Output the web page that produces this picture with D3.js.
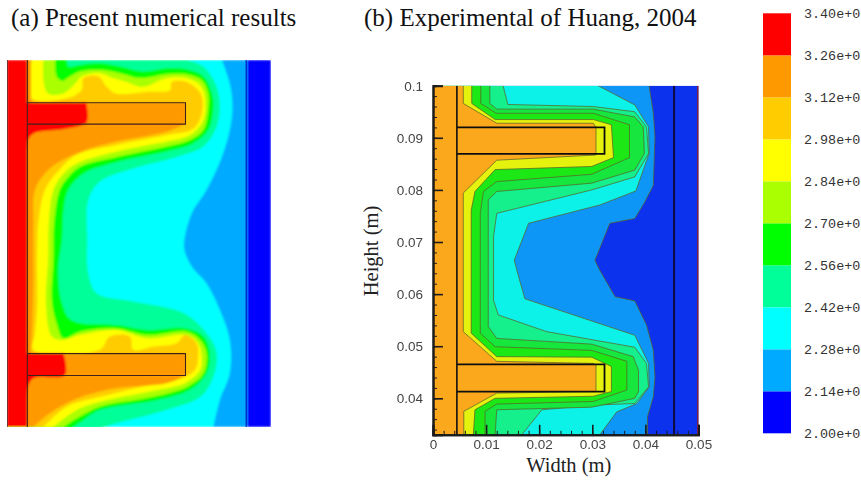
<!DOCTYPE html>
<html>
<head>
<meta charset="utf-8">
<style>
html, body { margin: 0; padding: 0; background: #fff; overflow: hidden; }
svg { display: block; }
.title, .axis-title { font-family: "Liberation Serif", serif; fill: #111; }
.title { font-size: 25px; }
.axis-title { font-size: 20.5px; fill: #222; }
.tick-label { font-family: "Liberation Sans", sans-serif; font-size: 13.5px; fill: #444; }
.legend-label { font-family: "Liberation Mono", monospace; font-size: 13.4px; fill: #333; }
</style>
</head>
<body>
<div id="vizHolder"></div>
<script src="https://cdn.jsdelivr.net/npm/d3@7"></script>
<script>
// colour bar
var levels = [2.00, 2.14, 2.28, 2.42, 2.56, 2.70, 2.84, 2.98, 3.12, 3.26, 3.40];
var levelLabels = ['2.00e+0', '2.14e+0', '2.28e+0', '2.42e+0', '2.56e+0', '2.70e+0', '2.84e+0', '2.98e+0', '3.12e+0', '3.26e+0', '3.40e+0'];
var bandColors = ['#0000ff', '#00aaff', '#00ffff', '#00ff99', '#00ff00', '#aaff00', '#ffff00', '#ffcc00', '#ff9900', '#ff0000'];

// (b) axis ticks, metres
var widthTicks = [0, 0.01, 0.02, 0.03, 0.04, 0.05];
var heightTicks = [0.04, 0.05, 0.06, 0.07, 0.08, 0.09, 0.1];

// all contours below are [width mm, height mm], top to bottom

// (a) Present numerical results
var aCyan = [[40.7,100],[42.2,95.7],[42.7,91.5],[42.2,87.2],[40.7,82.3],[37.8,76.3],[35,72],[33.6,67.1],[33.6,65.3],[35,62.3],[37.8,59.2],[40.3,54.4],[42.2,48.9],[42.2,42.8],[40.3,37.9],[39.1,33]];
var aSpring = [[34,100],[37.2,98.8],[39.7,95.1],[40.3,91.5],[39.7,87.8],[37.2,84.2],[32.1,82.3],[23.9,80.2],[17.6,77.8],[15.4,74.4],[15.2,67.1],[15.4,61],[17,57.4],[23.9,55.9],[33.4,53.8],[37.8,50.1],[39.7,46.5],[39.1,42.2],[36.6,38.5],[30.2,36.1],[20.8,33.7],[17.6,32.8]];
var aGreen = [[11.3,100],[11.6,98.8],[13.8,99.1],[17.6,99.4],[21.4,98.8],[25.8,97.9],[30.2,98.5],[34,98.3],[37.2,97],[38.8,93.9],[39.1,91.5],[38.1,87.2],[35.3,84.8],[30.2,83.3],[20.8,81.4],[14.5,79.3],[11.6,76.3],[10.7,72.6],[10.4,67.1],[9.7,61.7],[10.4,55.6],[12.2,52.5],[20.8,51.6],[26.5,50.7],[34,51],[37.2,49.5],[38.4,46.5],[37.8,42.8],[34.7,39.8],[28.3,37.9],[17.6,36.1],[14.5,34.3],[12.2,32.8]];
var aLime = [[9.1,100],[9.4,97],[10.4,96.2],[11.9,97],[13.8,97.9],[17.6,98.2],[21.4,97.6],[25.2,96.7],[30.2,97.4],[34,97.4],[36.9,96.3],[38.1,93.9],[38.1,90.9],[37.2,87.2],[34.7,85.4],[30.2,84.2],[20.8,82.3],[13.8,80.5],[11.5,78.5],[10,76.3],[8.9,70],[8.8,64],[8.5,56],[9.4,51.9],[10.7,49.2],[13.8,50.4],[20.8,51],[26.5,49.8],[34,50.4],[36.6,48.9],[37.8,46.5],[37.2,42.8],[34.3,40.4],[27.7,38.5],[17.6,36.7],[13.8,34.9],[10.7,33]];
var aYellow = [[6.9,100],[6.9,96.3],[7.8,93.9],[10.7,93.9],[12.9,95.7],[14.1,97],[17.6,97.6],[20.1,96.7],[22.7,96],[25.8,95.1],[30.2,96.7],[34,96.7],[36.6,95.4],[37.5,93.3],[37.2,89],[34.7,86.3],[30.2,85.1],[20.8,83.3],[13.2,81.1],[10.5,79],[8.8,76.3],[7.9,70],[7.8,64],[7.4,55],[8.5,49.5],[10.4,48.9],[13.8,49.8],[20.8,50.7],[26.5,49.2],[34,49.8],[36.2,48.3],[36.9,45.9],[36.6,43.4],[33.7,41],[27.1,39.5],[17.6,37.6],[13.2,36.1],[8.8,33]];
var aAmber = [[4.7,100],[4.7,93],[11.3,93],[14.1,94.5],[14.5,96.7],[17.3,97],[18.9,95.1],[20.5,93.9],[23.9,93.9],[26.5,94.2],[30.9,94.5],[31.2,96],[34,96],[35.9,94.8],[36.9,93.3],[36.9,90.3],[35.3,87.5],[30.2,86.3],[20.8,84.5],[13.2,82.7],[9.5,79.5],[7.2,76.3],[5.9,70],[5.7,64],[5.7,55],[5.3,50],[5,47.1],[17.6,47.1],[19.5,49.5],[23.3,49.5],[23.9,47.1],[27.7,47.7],[32.1,48.3],[33.7,49.8],[35.9,48.3],[36.2,45.9],[35.6,43.4],[32.1,41.6],[25.8,40.4],[17.6,38.5],[11.3,36.7],[6.9,33]];
var aOrangeUpper = [[33.8,88.3],[30.2,86.9],[20.8,85.1],[14.1,83.3],[8.1,80.2],[5.3,76.3],[5,70],[5,60],[4.8,52],[4.5,46.4]];
var aOrangeLower = [[33.8,42.3],[30.2,41],[20.8,40.1],[13.2,38.2],[8.1,35.5],[5,33]];
var aRedUpper = [[15,92.2],[15.1,88.7],[11.3,87.5],[5,86.6],[4,85.4],[3.85,84]];
var aRedLower = [[10.7,46.4],[11,42.5],[5,41.9],[4,40.4],[3.85,39]];
var aFins = [[92.2, 88.3], [46.4, 42.4]];   // top, bottom height of each fin
var aWall = 3.85, aFinEnd = 33.8, aLightBlueEnd = 45.5, aSink = 45.3;

// (b) Experimental of Huang, 2004
var bLightBlue = [[40.7,100],[41.5,94.7],[41.8,90.2],[41.5,80.9],[39.9,77.7],[38,74.5],[33.3,73.6],[30.5,66.5],[31.4,64.6],[34.3,59.5],[38,58.7],[40.2,54.1],[41.5,49.2],[41.8,44.1],[41.5,40.3],[40.4,36.5],[40.4,33]];
var bCyan = [[31.1,100],[38,96.3],[40.6,92.1],[40.7,87],[38.2,79.8],[31.4,77.1],[18,73.6],[15.3,66.5],[16.3,62.7],[17.3,59.1],[38,52.1],[40.6,46.7],[40.7,42.2],[38.4,39],[34.6,37.4],[31.4,33]];
var bSpring = [[13.2,100],[14.1,96.4],[30.2,96],[38,95],[40.2,92.1],[40.6,87],[38,82.5],[29.9,80],[12,75.5],[11.4,71],[11.4,64.6],[11.4,58.8],[12.3,56],[21.4,52.8],[38,49.8],[40.2,46.7],[40.6,42.2],[38,39],[30.2,38.7],[20.5,37.8],[16.7,33]];
var bGreenOuter = [[10.7,100],[10.7,96.6],[12,95.5],[30.2,95.5],[38,94],[39.6,92.1],[39.8,87],[38,83.8],[29.9,81.3],[12,79.7],[10.4,78.1],[10.4,64.6],[10.4,53.8],[12,51.5],[29.9,50.4],[37.7,48],[38.7,45.4],[38.7,41.3],[38,40],[29.9,38.3],[12,37.8],[11.7,33]];
var bGreenInner = [[9,100],[9,96.6],[11.9,94.7],[30.2,94.7],[37,92.5],[37,86.2],[29.9,83],[12,81.6],[9.5,79.7],[8.9,75.5],[8.9,64.6],[8.9,52.5],[11.7,49.9],[29.9,49.2],[36.5,47.1],[36.5,41.6],[30.2,39.4],[12,38.9],[9.8,37.5],[9.8,33]];
var bYellow = [[7.3,100],[7.3,96.6],[11.7,93.5],[30.2,93.5],[33.6,92.5],[34,86.2],[29.9,84.5],[11.7,83.9],[7.9,79.7],[7.2,76.1],[7.2,64.6],[7.2,52.5],[12,48],[29.9,47.9],[33.6,46.1],[33.6,41.3],[30.2,40.4],[11.7,40],[7.9,37.8],[7.6,33]];
var bOrange = [[5.7,100],[5.7,96.6],[12,92.8],[30.2,92.8],[30.7,92],[30.7,86.7],[12,85.7],[5.7,79.4],[5.7,64.6],[5.7,52.8],[12,47.1],[30.2,46.7],[30.7,46.4],[30.7,41.3],[12,41],[5.8,37.5],[5.8,33]];
var bFins = [[92, 86.9], [46.5, 41.3]];
var bWall = 4.5, bFinEnd = 32.3, bSink = 45.4;

var svg = d3.select('#vizHolder').append('svg').attr('width', 861).attr('height', 480);

var defs = svg.append('defs');
defs.append('filter').attr('id', 'soft').attr('x', '-2%').attr('y', '-2%').attr('width', '104%').attr('height', '104%')
	.append('feGaussianBlur').attr('stdDeviation', 0.8);
defs.append('filter').attr('id', 'softer').attr('x', '-10%').attr('y', '-10%').attr('width', '120%').attr('height', '120%')
	.append('feGaussianBlur').attr('stdDeviation', 0.5);

svg.append('text').attr('class', 'title').attr('x', 11).attr('y', 26).text('(a) Present numerical results');
svg.append('text').attr('class', 'title').attr('x', 364).attr('y', 26).text('(b) Experimental of Huang, 2004');

drawPanelA();
drawPanelB();
drawLegend();

function drawPanelA() {
	var x = d3.scaleLinear().domain([0, 50]).range([7, 271]);
	var y = d3.scaleLinear().domain([33, 100]).range([427, 60]);
	var line = d3.line().x(function(d) { return x(d[0]); }).y(function(d) { return y(d[1]); }).curve(d3.curveCatmullRom);

	defs.append('clipPath').attr('id', 'clipA').append('rect')
		.attr('x', x(0)).attr('y', y(100)).attr('width', x(50) - x(0)).attr('height', y(33) - y(100));

	var g = svg.append('g').attr('clip-path', 'url(#clipA)');
	var fills = g.append('g').attr('filter', 'url(#soft)');

	function box(x0, x1, h0, h1, color) {
		fills.append('rect').attr('x', x(x0)).attr('y', y(h0)).attr('width', x(x1) - x(x0)).attr('height', y(h1) - y(h0)).attr('fill', color);
	}
	// everything left of a contour gets that contour's colour, outermost first
	function leftOf(points, color) {
		var first = points[0], last = points[points.length - 1];
		fills.append('path')
			.attr('d', line(points) + 'L' + x(0) + ',' + y(last[1]) + 'L' + x(0) + ',' + y(first[1]) + 'Z')
			.attr('fill', color);
	}

	box(0, 50, 100, 33, bandColors[0]);
	box(0, aLightBlueEnd, 100, 33, bandColors[1]);
	leftOf(aCyan, bandColors[2]);
	leftOf(aSpring, bandColors[3]);
	leftOf(aGreen, bandColors[4]);
	leftOf(aLime, bandColors[5]);
	leftOf(aYellow, bandColors[6]);
	leftOf(aAmber, bandColors[7]);
	leftOf(aOrangeUpper, bandColors[8]);
	leftOf(aOrangeLower, bandColors[8]);
	box(aWall, aWall + 0.7, 100, 33, bandColors[8]);
	aFins.forEach(function(f) { box(aWall, aFinEnd, f[0], f[1], bandColors[8]); });
	leftOf(aRedUpper, bandColors[9]);
	leftOf(aRedLower, bandColors[9]);
	aFins.forEach(function(f, i) { box(0, i ? aRedLower[0][0] : aRedUpper[0][0], f[0], f[1], bandColors[9]); });
	box(0, aWall, 100, 33, bandColors[9]);

	var walls = g.append('g').attr('fill', 'none').attr('stroke', '#40201a').attr('stroke-width', 1.1);
	walls.append('line').attr('x1', x(aWall)).attr('x2', x(aWall)).attr('y1', y(100)).attr('y2', y(33));
	walls.append('line').attr('x1', x(aSink)).attr('x2', x(aSink)).attr('y1', y(100)).attr('y2', y(33)).attr('stroke', '#0000b0').attr('stroke-width', 1);
	walls.append('line').attr('x1', x(0)).attr('x2', x(0)).attr('y1', y(100)).attr('y2', y(33)).attr('stroke-width', 1.4);
	aFins.forEach(function(f) {
		walls.append('path').attr('d', d3.line().x(function(d) { return x(d[0]); }).y(function(d) { return y(d[1]); })(
			[[aWall, f[0]], [aFinEnd, f[0]], [aFinEnd, f[1]], [aWall, f[1]]]));
	});
}

function drawPanelB() {
	var x = d3.scaleLinear().domain([0, 0.05]).range([433, 698.5]);
	var y = d3.scaleLinear().domain([0.033, 0.1]).range([434.8, 85.7]);
	// contours are kept in mm, the axes in metres
	function px(d) { return x(d[0] / 1000); }
	function py(d) { return y(d[1] / 1000); }
	var line = d3.line().x(px).y(py);

	defs.append('clipPath').attr('id', 'clipB').append('rect')
		.attr('x', x(0)).attr('y', y(0.1)).attr('width', x(0.05) - x(0)).attr('height', y(0.033) - y(0.1));

	var g = svg.append('g').attr('filter', 'url(#softer)');
	var plot = g.append('g').attr('clip-path', 'url(#clipB)');

	plot.append('rect').attr('x', x(0)).attr('y', y(0.1)).attr('width', x(0.05) - x(0)).attr('height', y(0.033) - y(0.1)).attr('fill', '#0b30ee');

	var layers = [
		[bLightBlue, '#0c96f6'],
		[bCyan, '#0cf2e8'],
		[bSpring, '#12f08c'],
		[bGreenOuter, '#12e63c'],
		[bGreenInner, '#1ee818'],
		[bYellow, '#e4f20c'],
		[bOrange, '#fba81c']
	];
	layers.forEach(function(layer) {
		var points = layer[0], first = points[0], last = points[points.length - 1];
		plot.append('path')
			.attr('d', line(points) + 'L' + x(0) + ',' + py(last) + 'L' + x(0) + ',' + py(first) + 'Z')
			.attr('fill', layer[1]);
		plot.append('path').attr('d', line(points)).attr('fill', 'none').attr('stroke', '#5c6428').attr('stroke-opacity', 0.75).attr('stroke-width', 1);
	});

	plot.append('line').attr('x1', px([bWall])).attr('x2', px([bWall])).attr('y1', y(0.1)).attr('y2', y(0.033)).attr('stroke', '#101010').attr('stroke-width', 1.6);
	plot.append('line').attr('x1', px([bSink])).attr('x2', px([bSink])).attr('y1', y(0.1)).attr('y2', y(0.033)).attr('stroke', '#08083c').attr('stroke-width', 2);
	bFins.forEach(function(f) {
		plot.append('path')
			.attr('d', line([[bWall, f[0]], [bFinEnd, f[0]], [bFinEnd, f[1]], [bWall, f[1]]]))
			.attr('fill', 'none').attr('stroke', '#101010').attr('stroke-width', 1.8);
	});
	plot.append('line').attr('x1', x(0.05)).attr('x2', x(0.05)).attr('y1', y(0.1)).attr('y2', y(0.033)).attr('stroke', '#7a1c44').attr('stroke-width', 3);

	// axes, ticks point into the plot
	var xMinor = d3.axisBottom(x).tickValues(d3.range(0, 0.0501, 0.002)).tickSize(-4).tickFormat('');
	var yMinor = d3.axisLeft(y).tickValues(d3.range(0.034, 0.1001, 0.002)).tickSize(-4).tickFormat('');
	var xAxis = d3.axisBottom(x).tickValues(widthTicks).tickSize(-10).tickPadding(4.5).tickFormat(function(d) { return d3.format('~g')(d); });
	var yAxis = d3.axisLeft(y).tickValues(heightTicks).tickSize(-10).tickPadding(10).tickFormat(function(d) { return d3.format('~g')(d); });

	g.append('g').attr('transform', 'translate(0,' + y(0.033) + ')').call(xMinor).call(styleAxis, 1);
	g.append('g').attr('transform', 'translate(' + x(0) + ',0)').call(yMinor).call(styleAxis, 1);
	g.append('g').attr('transform', 'translate(0,' + y(0.033) + ')').call(xAxis).call(styleAxis, 1.6);
	g.append('g').attr('transform', 'translate(' + x(0) + ',0)').call(yAxis).call(styleAxis, 1.6);

	svg.append('text').attr('class', 'axis-title').attr('text-anchor', 'middle')
		.attr('x', x(0.025) + 3).attr('y', 472).text('Width (m)');
	svg.append('text').attr('class', 'axis-title').attr('text-anchor', 'middle')
		.attr('transform', 'translate(378,251) rotate(-90)').text('Height (m)');
}

function styleAxis(sel, w) {
	sel.select('.domain').attr('stroke', '#1a1a1a').attr('stroke-width', 2);
	sel.selectAll('.tick line').attr('stroke', '#1a1a1a').attr('stroke-width', w);
	sel.selectAll('.tick text').attr('class', 'tick-label').attr('fill', null);
}

function drawLegend() {
	var y = d3.scaleLinear().domain([2, 3.4]).range([433.3, 13.3]);
	var g = svg.append('g');

	g.selectAll('rect').data(bandColors).enter().append('rect')
		.attr('x', 763).attr('width', 28)
		.attr('y', function(d, i) { return y(levels[i + 1]); })
		.attr('height', function(d, i) { return y(levels[i]) - y(levels[i + 1]); })
		.attr('fill', function(d) { return d; });

	g.append('g')
		.selectAll('text').data(levelLabels).enter().append('text')
		.attr('class', 'legend-label')
		.attr('x', 804)
		.attr('y', function(d, i) { return y(levels[i]) + 5; })
		.text(function(d) { return d; });
}
</script>
</body>
</html>
